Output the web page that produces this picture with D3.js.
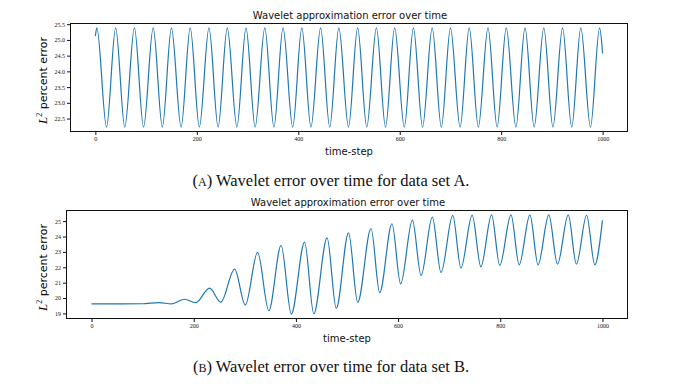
<!DOCTYPE html>
<html>
<head>
<meta charset="utf-8">
<script src="https://cdn.jsdelivr.net/npm/d3@7"></script>
<style>
  body { margin: 0; background: #fff; }
  svg { display: block; }
  .frame { fill: none; stroke: #111; stroke-width: 1; }
  .series { fill: none; stroke: #1f77b4; stroke-width: 1.2; }
  .tick text { font-family: 'Liberation Serif', serif; font-size: 6px; fill: #111; }
  .tick line { stroke: #111; }
  .title, .xlabel { font-family: 'DejaVu Sans', sans-serif; fill: #111; }
  .caption { font-family: 'Liberation Serif', serif; fill: #111; }
</style>
</head>
<body>
<svg id="page" width="691" height="391"></svg>
<script>
// time-step ticks shared by both panels
const stepTicks = [0, 200, 400, 600, 800, 1000];

// data set A: extrema of the oscillation
const stepsA = [0, 3, 22, 40, 58, 77, 95, 114, 132, 150, 169, 187, 205, 224, 242, 260, 279, 297, 315, 334,
  352, 370, 389, 407, 425, 444, 462, 480, 499, 517, 535, 554, 572, 590, 609, 627, 645, 664, 682, 700,
  719, 737, 755, 774, 792, 810, 829, 847, 865, 884, 902, 921, 939, 957, 976, 994, 1000];
const errorA = [25.12, 25.38, 22.23, 25.38, 22.23, 25.38, 22.23, 25.38, 22.23, 25.38, 22.23, 25.38, 22.23,
  25.38, 22.23, 25.38, 22.23, 25.38, 22.23, 25.38, 22.23, 25.38, 22.23, 25.38, 22.23, 25.38, 22.23, 25.38,
  22.23, 25.38, 22.23, 25.38, 22.23, 25.38, 22.23, 25.38, 22.23, 25.38, 22.23, 25.38, 22.23, 25.38, 22.23,
  25.38, 22.23, 25.38, 22.23, 25.38, 22.23, 25.38, 22.23, 25.38, 22.23, 25.38, 22.23, 25.38, 24.57];
const errorTicksA = [22.5, 23.0, 23.5, 24.0, 24.5, 25.0, 25.5];

// data set B
const stepsB = [0, 60, 100, 132, 157, 182, 204, 231, 253, 280, 301, 325, 347, 371, 391, 417, 435, 461, 479,
  503, 521, 547, 564, 588, 605, 628, 645, 667, 684, 707, 723, 745, 762, 783, 799, 821, 837, 858, 874, 895,
  912, 933, 949, 969, 985, 1000];
const errorB = [19.62, 19.62, 19.63, 19.70, 19.62, 19.92, 19.70, 20.64, 19.73, 21.88, 19.55, 22.97, 19.18,
  23.43, 18.96, 23.63, 18.98, 23.91, 19.33, 24.24, 19.72, 24.52, 20.35, 24.83, 20.92, 25.07, 21.47, 25.26,
  21.66, 25.37, 21.95, 25.39, 22.03, 25.40, 22.12, 25.40, 22.16, 25.40, 22.16, 25.40, 22.20, 25.40, 22.20,
  25.38, 22.16, 25.05];
const errorTicksB = [19, 20, 21, 22, 23, 24, 25];

const svg = d3.select('#page');

function drawPanel(opts) {
  const { steps, errors, yTicks, yFormat, left, right, top, bottom, caption, letter } = opts;
  const g = svg.append('g');

  const x = d3.scaleLinear().domain([-50, 1050]).range([left, right]);
  const [lo, hi] = d3.extent(errors);
  const pad = (hi - lo) * 0.05;
  const y = d3.scaleLinear().domain([lo - pad, hi + pad]).range([bottom, top]);

  const line = d3.line()
    .x((d, i) => x(steps[i]))
    .y((d) => y(d))
    .curve(d3.curveMonotoneX);

  g.append('path')
    .datum(errors)
    .classed('series', true)
    .attr('d', line);

  g.append('rect')
    .classed('frame', true)
    .attr('x', left + 0.5)
    .attr('y', top + 0.5)
    .attr('width', right - left - 1)
    .attr('height', bottom - top - 1);

  const xAxis = g.append('g')
    .attr('transform', `translate(0,${bottom})`)
    .call(d3.axisBottom(x).tickValues(stepTicks).tickFormat(d3.format('d')).tickSize(3).tickPadding(2));
  xAxis.select('.domain').remove();

  const yAxis = g.append('g')
    .attr('transform', `translate(${left},0)`)
    .call(d3.axisLeft(y).tickValues(yTicks).tickFormat(d3.format(yFormat)).tickSize(3).tickPadding(2));
  yAxis.select('.domain').remove();

  g.append('text')
    .classed('title', true)
    .attr('x', (left + right) / 2 + 1)
    .attr('y', top - 4)
    .attr('text-anchor', 'middle')
    .style('font-size', '10px')
    .text('Wavelet approximation error over time');

  g.append('text')
    .classed('xlabel', true)
    .attr('x', (left + right) / 2)
    .attr('y', bottom + 23)
    .attr('text-anchor', 'middle')
    .style('font-size', '10px')
    .text('time-step');

  const ylab = g.append('text')
    .attr('transform', `translate(47,${(top + bottom) / 2 + 3}) rotate(-90)`)
    .attr('text-anchor', 'middle');
  ylab.append('tspan')
    .style('font-family', "'Liberation Serif', serif")
    .style('font-style', 'italic')
    .style('font-size', '13px')
    .text('L');
  ylab.append('tspan')
    .style('font-family', "'Liberation Serif', serif")
    .style('font-size', '8px')
    .attr('dy', -5)
    .text('2');
  ylab.append('tspan')
    .style('font-family', "'DejaVu Sans', sans-serif")
    .style('font-size', '11px')
    .attr('dy', 5)
    .text(' percent error');

  const cap = g.append('text')
    .classed('caption', true)
    .attr('x', 331)
    .attr('y', caption)
    .attr('text-anchor', 'middle')
    .style('font-size', '16.5px');
  cap.append('tspan').text('(');
  cap.append('tspan').style('font-size', '12px').text(letter);
  cap.append('tspan').text(`) Wavelet error over time for data set ${letter}.`);
}

drawPanel({
  steps: stepsA, errors: errorA, yTicks: errorTicksA, yFormat: '.1f',
  left: 70, right: 628, top: 23, bottom: 132, caption: 186, letter: 'A',
});

drawPanel({
  steps: stepsB, errors: errorB, yTicks: errorTicksB, yFormat: 'd',
  left: 66, right: 628, top: 210, bottom: 319, caption: 372, letter: 'B',
});
</script>
</body>
</html>
